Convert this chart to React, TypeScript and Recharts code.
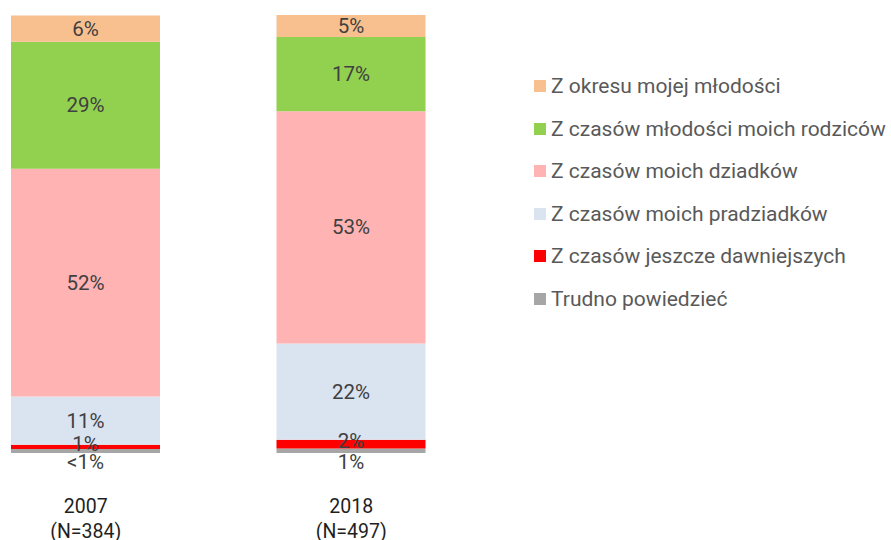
import React from 'react';
import { BarChart, Bar, XAxis, YAxis, Legend, LabelList } from 'recharts';

// categories
const YEARS = ['2007', '2018'];
const SAMPLE_SIZES = ['(N=384)', '(N=497)'];

// series values (%), bottom of the stack first
const TRUDNO = [0.9, 1];
const DAWNIEJSZE = [1, 2];
const PRADZIADKOWIE = [11, 22];
const DZIADKOWIE = [52, 53];
const RODZICE = [29, 17];
const MLODOSC = [6, 5];

const SERIES = [
  { key: 'trudno', name: 'Trudno powiedzieć', color: '#A6A6A6', values: TRUDNO },
  { key: 'dawniej', name: 'Z czasów jeszcze dawniejszych', color: '#FF0000', values: DAWNIEJSZE },
  { key: 'pradziadki', name: 'Z czasów moich pradziadków', color: '#DAE3F0', values: PRADZIADKOWIE },
  { key: 'dziadki', name: 'Z czasów moich dziadków', color: '#FFB3B3', values: DZIADKOWIE },
  { key: 'rodzice', name: 'Z czasów młodości moich rodziców', color: '#92D050', values: RODZICE },
  { key: 'mlodosc', name: 'Z okresu mojej młodości', color: '#F9C08F', values: MLODOSC },
];

const data = YEARS.map((year, i) => {
  const row: Record<string, string | number> = { year, n: SAMPLE_SIZES[i] };
  SERIES.forEach(s => { row[s.key] = s.values[i]; });
  return row;
});

const FONT = 'Roboto, "Noto Sans", sans-serif';

const fmt = (v: number) => (v < 1 ? '<1%' : `${Math.round(v)}%`);

// labels sit in the middle of each segment; the grey one goes under the bar
const makeLabel = (key: string) => (props: any) => {
  const { x, y, width, height, value } = props;
  const cx = Number(x) + Number(width) / 2;
  let ty = Number(y) + Number(height) / 2;
  let baseline = 'central';
  if (key === 'trudno') {
    ty = Number(y) + Number(height) + 1;
    baseline = 'hanging';
  } else if (key === 'dawniej') {
    ty -= 3;
  }
  return (
    <text x={cx} y={ty} textAnchor="middle" dominantBaseline={baseline as any}
      fontFamily={FONT} fontSize={20.5} fill="#404040">
      {fmt(Number(value))}
    </text>
  );
};

const YearTick = (props: any) => {
  const { x, y, payload, index } = props;
  return (
    <text x={x} textAnchor="middle" fontFamily={FONT} fontSize={19.5} fill="#1F1F1F">
      <tspan x={x} y={y + 60}>{payload.value}</tspan>
      <tspan x={x} y={y + 84.5}>{SAMPLE_SIZES[index]}</tspan>
    </text>
  );
};

const LegendBox = () => (
  <div style={{ fontFamily: FONT, fontSize: 21, color: '#595959' }}>
    {[...SERIES].reverse().map(s => (
      <div key={s.key} style={{ height: 42.6, display: 'flex', alignItems: 'center', whiteSpace: 'nowrap' }}>
        <span style={{ width: 12, height: 12, background: s.color, marginRight: 5, flexShrink: 0 }} />
        <span>{s.name}</span>
      </div>
    ))}
  </div>
);

export default function App() {
  return (
    <div style={{ position: 'absolute', left: -47, top: 0, width: 938, height: 540 }}>
      <BarChart width={938} height={540} data={data} barSize={149} barCategoryGap={0}
        margin={{ top: 15, right: 407, bottom: 0, left: 0 }}>
        <XAxis dataKey="year" axisLine={false} tickLine={false} tickSize={0} tickMargin={0}
          height={87} tick={<YearTick />} interval={0} />
        <YAxis hide domain={[0, 100]} allowDataOverflow />
        <Legend layout="vertical" align="center" verticalAlign="middle" content={<LegendBox />}
          wrapperStyle={{ left: 581, top: 64.7, width: 360 }} />
        {SERIES.map(s => (
          <Bar key={s.key} dataKey={s.key} name={s.name} stackId="a" fill={s.color} isAnimationActive={false}>
            <LabelList dataKey={s.key} content={makeLabel(s.key)} />
          </Bar>
        ))}
      </BarChart>
    </div>
  );
}
